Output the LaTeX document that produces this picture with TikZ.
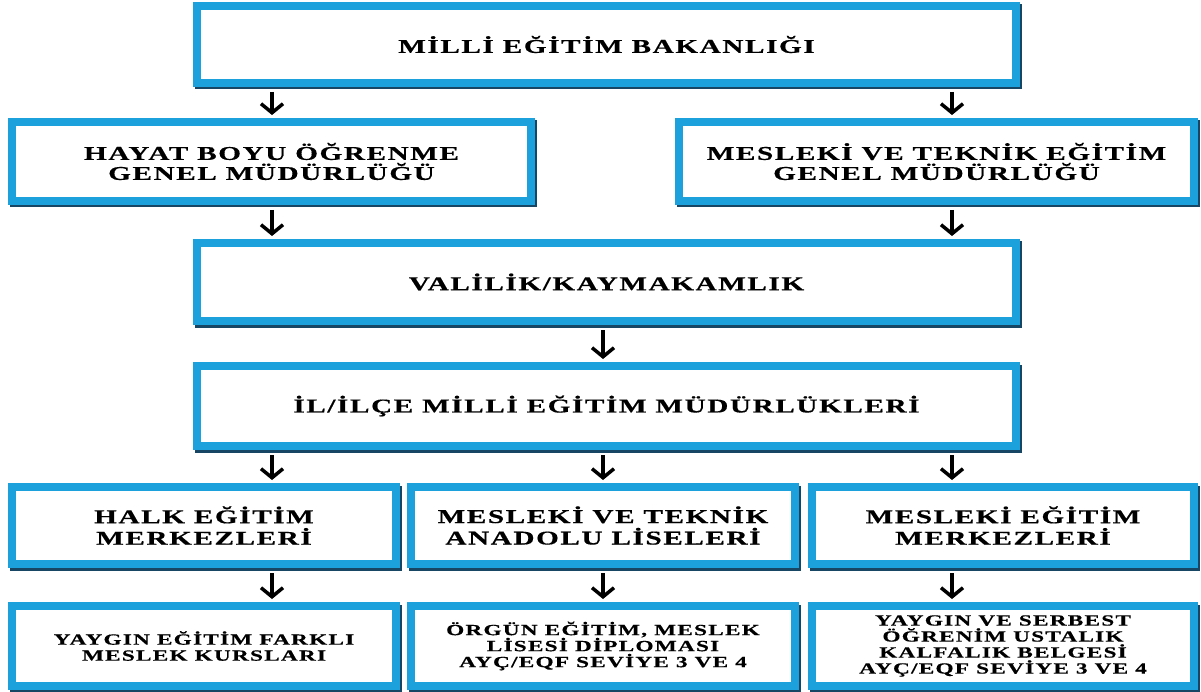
\documentclass[tikz,border=0pt]{standalone}
\usepackage{fontspec}
\usepackage{tikz}
\usepackage{xcolor}
\usetikzlibrary{arrows.meta, positioning}
\newfontfamily\boxfont{Liberation Serif}[FakeStretch=1.5, LetterSpace=8, FakeBold=0.5]
\definecolor{boxblue}{RGB}{29,161,220}
\definecolor{boxshade}{RGB}{22,70,100}

\begin{document}
\begin{tikzpicture}[x=1pt, y=-1pt, on grid, box/.style={rectangle, draw=boxblue, fill=white, line width=8pt, align=center, inner sep=2pt, font=\boxfont\bfseries\fontsize{19.5}{20}\selectfont, preaction={draw=boxshade, line width=8pt, transform canvas={xshift=1.5pt, yshift=-2.5pt}}}, small/.style={font=\boxfont\bfseries\fontsize{15.5}{16}\selectfont}, big/.style={font=\boxfont\bfseries\fontsize{19.5}{21.5}\selectfont}, arr/.style={-{Straight Barb[length=9pt, width=22pt]}, line width=3.5pt, shorten >=3pt, shorten <=5pt}]

            \useasboundingbox (0,0) rectangle (1201,692);

            \node[box, minimum width=819pt, minimum height=77pt] (MEB) at (606.5,44.5) {MİLLİ EĞİTİM BAKANLIĞI};
            \node[box, minimum width=519pt, minimum height=79pt, below left=117pt and 335pt of MEB] (HBO) {HAYAT BOYU ÖĞRENME\\GENEL MÜDÜRLÜĞÜ};
            \node[box, minimum width=515pt, minimum height=79pt, below right=117pt and 330pt of MEB] (MTE) {MESLEKİ VE TEKNİK EĞİTİM\\GENEL MÜDÜRLÜĞÜ};
            \node[box, minimum width=819pt, minimum height=78pt, below=237.5pt of MEB] (VAL) {VALİLİK/KAYMAKAMLIK};
            \node[box, minimum width=819pt, minimum height=80pt, below=124pt of VAL] (ILM) {İL/İLÇE MİLLİ EĞİTİM MÜDÜRLÜKLERİ};
            \node[box, big, minimum width=384pt, minimum height=77pt, below left=119.5pt and 3.5pt of ILM] (MTAL) {MESLEKİ VE TEKNİK\\ANADOLU LİSELERİ};
            \node[box, big, minimum width=384pt, minimum height=77pt, left=399pt of MTAL] (HEM) {HALK EĞİTİM\\MERKEZLERİ};
            \node[box, big, minimum width=382pt, minimum height=77pt, right=400pt of MTAL] (MEM) {MESLEKİ EĞİTİM\\MERKEZLERİ};
            \node[box, small, minimum width=384pt, minimum height=80pt, below=120.5pt of HEM] (YEK) {YAYGIN EĞİTİM FARKLI\\MESLEK KURSLARI};
            \node[box, small, minimum width=384pt, minimum height=80pt, below=120.5pt of MTAL] (OED) {ÖRGÜN EĞİTİM, MESLEK\\LİSESİ DİPLOMASI\\AYÇ/EQF SEVİYE 3 VE 4};
            \node[box, small, minimum width=382pt, minimum height=80pt, below=120.5pt of MEM] (YSO) {YAYGIN VE SERBEST\\ÖĞRENİM USTALIK\\KALFALIK BELGESİ\\AYÇ/EQF SEVİYE 3 VE 4};

            \coordinate (xl) at (272,0);
            \coordinate (xm) at (603,0);
            \coordinate (xr) at (952,0);

            \path[arr]
            (MEB.south -| xl) edge (HBO.north -| xl)
            (MEB.south -| xr) edge (MTE.north -| xr)
            (HBO.south -| xl) edge (VAL.north -| xl)
            (MTE.south -| xr) edge (VAL.north -| xr)
            (VAL.south -| xm) edge (ILM.north -| xm)
            (ILM.south -| xl) edge (HEM.north -| xl)
            (ILM.south -| xm) edge (MTAL.north -| xm)
            (ILM.south -| xr) edge (MEM.north -| xr)
            (HEM.south -| xl) edge (YEK.north -| xl)
            (MTAL.south -| xm) edge (OED.north -| xm)
            (MEM.south -| xr) edge (YSO.north -| xr)
            ;

        \end{tikzpicture}
\end{document}
